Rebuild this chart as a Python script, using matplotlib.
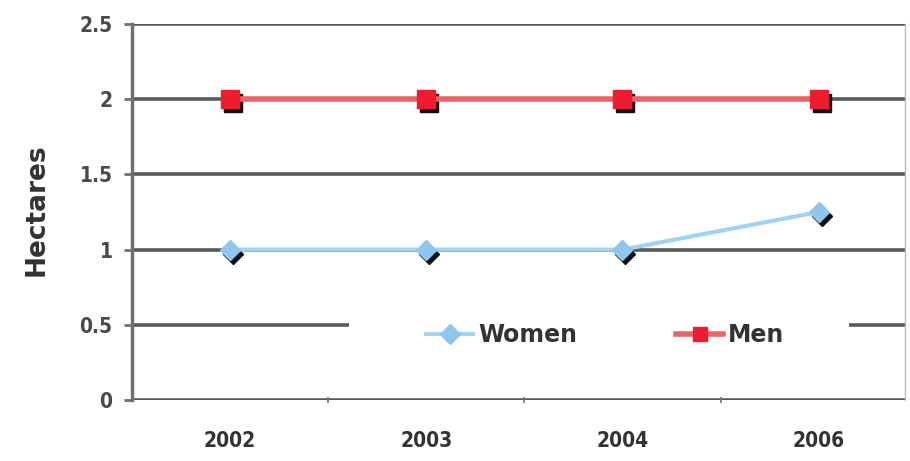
import matplotlib
matplotlib.use("Agg")
import matplotlib.pyplot as plt
import matplotlib.transforms as mtransforms
from matplotlib.patches import Rectangle
import numpy as np

years = ["2002", "2003", "2004", "2006"]
women = [1.0, 1.0, 1.0, 1.25]
men = [2.0, 2.0, 2.0, 2.0]
yticks = [0, 0.5, 1, 1.5, 2, 2.5]
ytick_labels = ["0", "0.5", "1", "1.5", "2", "2.5"]

W, H = 910, 461
fig = plt.figure(figsize=(W / 100, H / 100), dpi=100)
ax = fig.add_axes([132 / W, (H - 400) / H, (905 - 132) / W, (400 - 24) / H])

x = np.arange(len(years))
grid_c = "#5a5a5a"
for v in yticks:
    ax.axhline(v, color=grid_c, lw=2.6, zorder=1)

shadow = mtransforms.offset_copy(ax.transData, fig=fig, x=3, y=-4, units="dots")
ax.plot(x, women, ls="none", marker="D", ms=10, color="#111111", transform=shadow, zorder=2)
ax.plot(x, men, ls="none", marker="s", ms=13, color="#111111", transform=shadow, zorder=2)

ax.plot(x, women, color="#a3d3f3", lw=3, marker="D", ms=10, mfc="#8ec6ee", mec="#8ec6ee",
        label="Women", zorder=3)
ax.plot(x, men, color="#ea6464", lw=4, marker="s", ms=13, mfc="#ee1c2e", mec="#ee1c2e",
        label="Men", zorder=3)

ax.set_xlim(-0.5, 3.44)
ax.set_ylim(0, 2.5)
ax.set_xticks(x)
ax.set_xticklabels(years)
ax.set_xticks(x[:-1] + 0.5, minor=True)
ax.set_yticks(yticks)
ax.set_yticklabels(ytick_labels)

for s in ["top", "bottom"]:
    ax.spines[s].set_visible(False)
ax.spines["left"].set_color("#707070")
ax.spines["left"].set_linewidth(2.5)
ax.spines["right"].set_color("#bbbbbb")
ax.spines["right"].set_linewidth(1.0)

ax.tick_params(axis="x", which="major", length=0, pad=22, labelsize=15, labelcolor="#333333")
ax.tick_params(axis="x", which="minor", length=4, width=1.2, color="#777777", direction="inout")
ax.tick_params(axis="y", length=6, width=2, color="#707070", pad=8, labelsize=15, labelcolor="#4a4a4a")
for lab in ax.get_xticklabels() + ax.get_yticklabels():
    lab.set_fontstretch("condensed")
    lab.set_fontweight("bold")

ax.set_ylabel("Hectares", fontsize=19, fontweight="bold", color="#333333")
ax.yaxis.set_label_coords(-0.106, 0.505)

# white area behind the legend (hides gridline there)
ax.add_patch(Rectangle((0.281, 0.12), 0.647, 0.11, transform=ax.transAxes,
                       facecolor="white", edgecolor="none", zorder=4))

leg = ax.legend(loc="center", bbox_to_anchor=(0.612, 0.173), ncol=2, frameon=False,
                prop={"size": 17, "weight": "bold"}, handlelength=2.0, handletextpad=0.2,
                columnspacing=4.2, borderpad=0.2, borderaxespad=0)
for t in leg.get_texts():
    t.set_color("#333333")
leg.set_zorder(5)
for h in leg.legend_handles:
    h.set_markersize(10)

fig.savefig("out.png", dpi=100)
